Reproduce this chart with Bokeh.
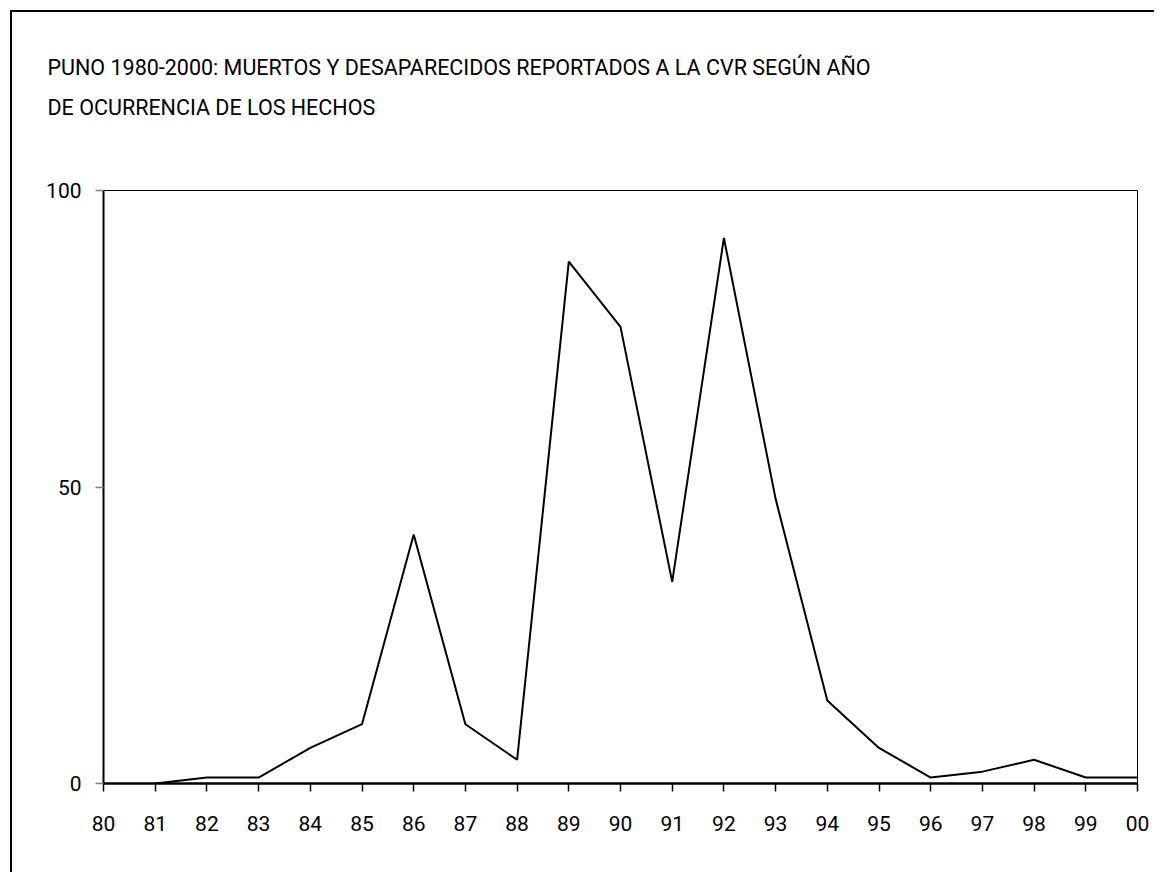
from bokeh.plotting import figure
from bokeh.models import Title, FixedTicker
from bokeh.embed import file_html
from bokeh.resources import INLINE

# Data
years = list(range(1981, 2001))
deaths = [0, 1, 1, 6, 10, 42, 10, 4, 88, 77, 34, 92, 48, 14, 6, 1, 2, 4, 1, 1]
tick_years = list(range(1980, 2001))
tick_labels = ["80", "81", "82", "83", "84", "85", "86", "87", "88", "89", "90",
               "91", "92", "93", "94", "95", "96", "97", "98", "99", "00"]
y_ticks = [0, 50, 100]
title_line1 = "PUNO 1980-2000: MUERTOS Y DESAPARECIDOS REPORTADOS A LA CVR SEGÚN AÑO"
title_line2 = "DE OCURRENCIA DE LOS HECHOS"

FONT = "Roboto"

p = figure(width=1144, height=862, output_backend="svg", toolbar_location=None,
           x_range=(1980, 2000), y_range=(0, 100),
           min_border_left=91, min_border_right=19, min_border_top=178, min_border_bottom=91)
p.styles = {"border-left": "2px solid black", "border-top": "2px solid black",
            "margin-left": "10px", "margin-top": "10px"}

p.line(years, deaths, line_color="black", line_width=2)

p.xgrid.visible = False
p.ygrid.visible = False
p.outline_line_color = "black"
p.outline_line_width = 1

xa = p.xaxis[0]
xa.ticker = FixedTicker(ticks=tick_years)
xa.major_label_overrides = {y: l for y, l in zip(tick_years, tick_labels)}
xa.axis_line_width = 2.5
xa.axis_line_color = "black"
xa.major_tick_line_color = "black"
xa.major_tick_line_width = 1.5
xa.major_tick_out = 8
xa.major_tick_in = 0
xa.minor_tick_line_color = None
xa.major_label_standoff = 24
xa.major_label_text_font = FONT
xa.major_label_text_font_size = "21px"
xa.major_label_text_color = "black"

ya = p.yaxis[0]
ya.ticker = FixedTicker(ticks=y_ticks)
ya.axis_line_width = 2
ya.axis_line_color = "black"
ya.major_tick_line_color = "#808080"
ya.major_tick_line_width = 1.5
ya.major_tick_out = 8
ya.major_tick_in = 0
ya.minor_tick_line_color = None
ya.major_label_standoff = 14
ya.major_label_text_font = FONT
ya.major_label_text_font_size = "21px"
ya.major_label_text_color = "black"

spacer = Title(text=" ", align="left", standoff=38,
               text_font=FONT, text_font_size="21px", text_color="black")
t2 = Title(text=title_line2, align="left", offset=-56, standoff=13,
           text_font=FONT, text_font_size="21.5px", text_font_style="normal", text_color="black")
t1 = Title(text=title_line1, align="left", offset=-56, standoff=13,
           text_font=FONT, text_font_size="21.5px", text_font_style="normal", text_color="black")
p.add_layout(spacer, "above")
p.add_layout(t2, "above")
p.add_layout(t1, "above")

open("out.html", "w").write(file_html(p, INLINE))
